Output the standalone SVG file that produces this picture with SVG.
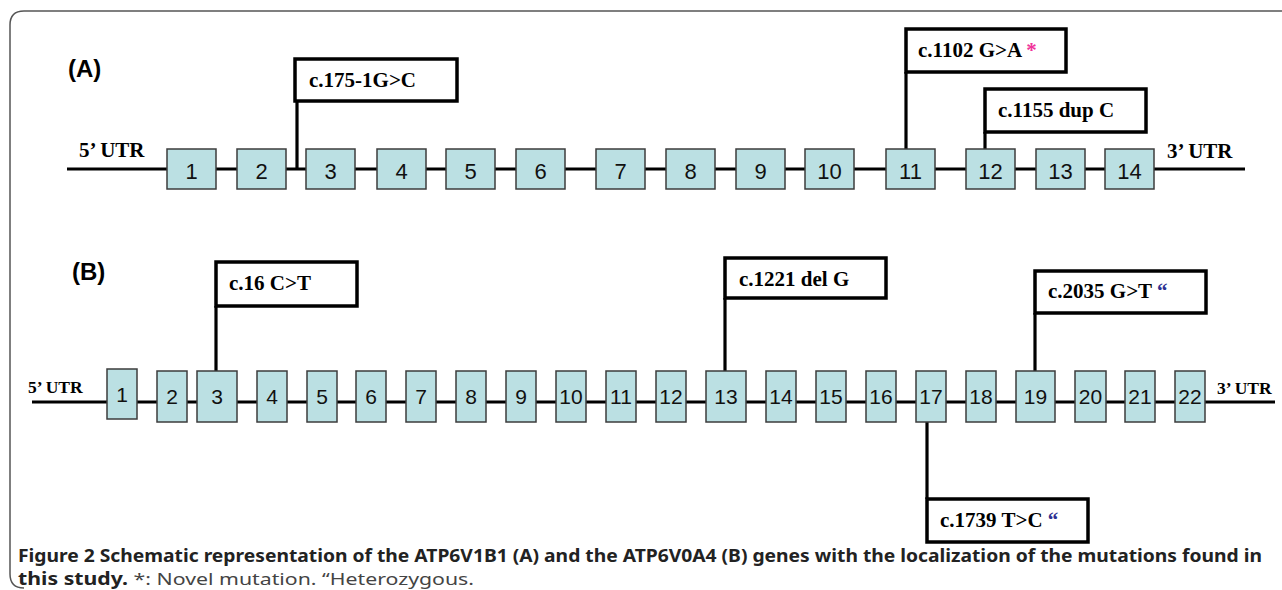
<svg xmlns="http://www.w3.org/2000/svg" width="1282" height="590" viewBox="0 0 1282 590">
<style>
.frame{fill:none;stroke:#555;stroke-width:1.5}
.gline{stroke:#000;stroke-width:3.2;fill:none}
.stem{stroke:#000;stroke-width:3.2;fill:none}
.exon{fill:#bbe0e3;stroke:#3c3c3c;stroke-width:1.5}
.ea{font-family:"Liberation Sans",Arial,sans-serif;font-size:22px;fill:#111;text-anchor:middle}
.eb{font-family:"Liberation Sans",Arial,sans-serif;font-size:21px;fill:#111;text-anchor:middle}
.lab{fill:#fff;stroke:#000;stroke-width:3.5}
.lt{font-family:"Liberation Serif","Times New Roman",serif;font-weight:bold;font-size:21px;fill:#000}
.utrA{font-family:"Liberation Serif","Times New Roman",serif;font-weight:bold;font-size:21px;fill:#000}
.utrB{font-family:"Liberation Serif","Times New Roman",serif;font-weight:bold;font-size:17.5px;fill:#000}
.panel{font-family:"Liberation Sans",Arial,sans-serif;font-weight:bold;font-size:24px;fill:#000}
.star{fill:#f0339a}
.quo{fill:#2e3192}
.cap{font-family:"Noto Sans","Open Sans",sans-serif;font-size:17px;fill:#222}
</style>
<path class="frame" d="M1282,11 H24 Q10,11 10,25 V574 Q10,588 24,588"/>

<g id="panelA">
<text class="panel" x="68" y="77">(A)</text>
<text class="utrA" x="79" y="157">5’ UTR</text>
<text class="utrA" x="1167" y="158">3’ UTR</text>
</g>
<g id="connectors">
<line class="gline" x1="67" y1="169" x2="1245" y2="169"/>
<line class="gline" x1="32" y1="402" x2="1275" y2="402"/>
<line class="stem" x1="297" y1="101" x2="297" y2="169"/>
<line class="stem" x1="906" y1="72" x2="906" y2="149"/>
<line class="stem" x1="985" y1="132" x2="985" y2="149"/>
<line class="stem" x1="216" y1="306" x2="216" y2="371"/>
<line class="stem" x1="725" y1="298" x2="725" y2="371"/>
<line class="stem" x1="1035" y1="313" x2="1035" y2="371"/>
<line class="stem" x1="927" y1="422" x2="927" y2="499"/>
</g>

<g id="exonsA">
<g id="a1"><rect class="exon" x="167" y="149" width="49" height="40"/><text class="ea" x="191.5" y="179">1</text></g>
<g id="a2"><rect class="exon" x="237" y="149" width="49" height="40"/><text class="ea" x="261.5" y="179">2</text></g>
<g id="a3"><rect class="exon" x="306" y="149" width="49" height="40"/><text class="ea" x="330.5" y="179">3</text></g>
<g id="a4"><rect class="exon" x="377" y="149" width="49" height="40"/><text class="ea" x="401.5" y="179">4</text></g>
<g id="a5"><rect class="exon" x="446" y="149" width="49" height="40"/><text class="ea" x="470.5" y="179">5</text></g>
<g id="a6"><rect class="exon" x="516" y="149" width="49" height="40"/><text class="ea" x="540.5" y="179">6</text></g>
<g id="a7"><rect class="exon" x="596" y="149" width="49" height="40"/><text class="ea" x="620.5" y="179">7</text></g>
<g id="a8"><rect class="exon" x="666" y="149" width="49" height="40"/><text class="ea" x="690.5" y="179">8</text></g>
<g id="a9"><rect class="exon" x="736" y="149" width="49" height="40"/><text class="ea" x="760.5" y="179">9</text></g>
<g id="a10"><rect class="exon" x="805" y="149" width="49" height="40"/><text class="ea" x="829.5" y="179">10</text></g>
<g id="a11"><rect class="exon" x="886" y="149" width="49" height="40"/><text class="ea" x="910.5" y="179">11</text></g>
<g id="a12"><rect class="exon" x="966" y="149" width="49" height="40"/><text class="ea" x="990.5" y="179">12</text></g>
<g id="a13"><rect class="exon" x="1036" y="149" width="49" height="40"/><text class="ea" x="1060.5" y="179">13</text></g>
<g id="a14"><rect class="exon" x="1105" y="149" width="49" height="40"/><text class="ea" x="1129.5" y="179">14</text></g>
</g>

<g id="labelsA">
<g id="m175"><rect class="lab" x="295" y="59" width="162" height="42"/><text class="lt" x="309" y="87">c.175-1G&gt;C</text></g>
<g id="m1102"><rect class="lab" x="906" y="29" width="160" height="43"/><text class="lt" x="918" y="57">c.1102 G&gt;A <tspan class="star">*</tspan></text></g>
<g id="m1155"><rect class="lab" x="985" y="89" width="161" height="43"/><text class="lt" x="998" y="117">c.1155 dup C</text></g>
</g>

<g id="panelB">
<text class="panel" x="72" y="280">(B)</text>
<text class="utrB" x="28" y="393">5’ UTR</text>
<text class="utrB" x="1217" y="394">3’ UTR</text>
</g>

<g id="exonsB">
<g id="b1"><rect class="exon" x="107" y="369" width="30" height="50"/><text class="eb" x="122" y="402">1</text></g>
<g id="b2"><rect class="exon" x="157" y="371" width="30" height="51"/><text class="eb" x="172" y="404">2</text></g>
<g id="b3"><rect class="exon" x="197" y="371" width="40" height="51"/><text class="eb" x="217" y="404">3</text></g>
<g id="b4"><rect class="exon" x="257" y="371" width="30" height="51"/><text class="eb" x="272" y="404">4</text></g>
<g id="b5"><rect class="exon" x="307" y="371" width="30" height="51"/><text class="eb" x="322" y="404">5</text></g>
<g id="b6"><rect class="exon" x="356" y="371" width="30" height="51"/><text class="eb" x="371" y="404">6</text></g>
<g id="b7"><rect class="exon" x="406" y="371" width="30" height="51"/><text class="eb" x="421" y="404">7</text></g>
<g id="b8"><rect class="exon" x="456" y="371" width="30" height="51"/><text class="eb" x="471" y="404">8</text></g>
<g id="b9"><rect class="exon" x="506" y="371" width="30" height="51"/><text class="eb" x="521" y="404">9</text></g>
<g id="b10"><rect class="exon" x="556" y="371" width="30" height="51"/><text class="eb" x="571" y="404">10</text></g>
<g id="b11"><rect class="exon" x="606" y="371" width="30" height="51"/><text class="eb" x="621" y="404">11</text></g>
<g id="b12"><rect class="exon" x="656" y="371" width="30" height="51"/><text class="eb" x="671" y="404">12</text></g>
<g id="b13"><rect class="exon" x="706" y="371" width="40" height="51"/><text class="eb" x="726" y="404">13</text></g>
<g id="b14"><rect class="exon" x="766" y="371" width="30" height="51"/><text class="eb" x="781" y="404">14</text></g>
<g id="b15"><rect class="exon" x="816" y="371" width="30" height="51"/><text class="eb" x="831" y="404">15</text></g>
<g id="b16"><rect class="exon" x="866" y="371" width="30" height="51"/><text class="eb" x="881" y="404">16</text></g>
<g id="b17"><rect class="exon" x="916" y="371" width="30" height="51"/><text class="eb" x="931" y="404">17</text></g>
<g id="b18"><rect class="exon" x="966" y="371" width="30" height="51"/><text class="eb" x="981" y="404">18</text></g>
<g id="b19"><rect class="exon" x="1016" y="371" width="39" height="51"/><text class="eb" x="1035.5" y="404">19</text></g>
<g id="b20"><rect class="exon" x="1075" y="371" width="31" height="51"/><text class="eb" x="1090.5" y="404">20</text></g>
<g id="b21"><rect class="exon" x="1125" y="371" width="30" height="51"/><text class="eb" x="1140" y="404">21</text></g>
<g id="b22"><rect class="exon" x="1175" y="371" width="30" height="51"/><text class="eb" x="1190" y="404">22</text></g>
</g>

<g id="labelsB">
<g id="m16"><rect class="lab" x="216" y="262" width="141" height="44"/><text class="lt" x="229" y="290">c.16 C&gt;T</text></g>
<g id="m1221"><rect class="lab" x="725" y="258" width="161" height="40"/><text class="lt" x="739" y="286">c.1221 del G</text></g>
<g id="m2035"><rect class="lab" x="1035" y="271" width="171" height="42"/><text class="lt" x="1048" y="298">c.2035 G&gt;T <tspan class="quo">“</tspan></text></g>
<g id="m1739"><rect class="lab" x="927" y="499" width="161" height="43"/><text class="lt" x="940" y="527">c.1739 T&gt;C <tspan class="quo">“</tspan></text></g>
</g>

<g id="caption">
<text class="cap" x="18" y="562" textLength="1244" lengthAdjust="spacingAndGlyphs" font-weight="bold">Figure 2 Schematic representation of the ATP6V1B1 (A) and the ATP6V0A4 (B) genes with the localization of the mutations found in</text>
<text class="cap" x="18" y="585" textLength="456" lengthAdjust="spacingAndGlyphs"><tspan font-weight="bold">this study.</tspan><tspan fill="#444"> *: Novel mutation. “Heterozygous.</tspan></text>
</g>
</svg>
